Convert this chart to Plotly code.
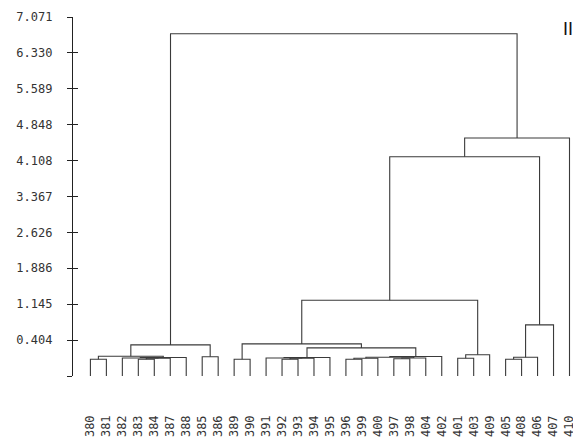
import plotly.graph_objects as go

# ===============================
# Données du dendrogramme
# ===============================
leaf_labels = ["380", "381", "382", "383", "384", "387", "388", "385", "386",
               "389", "390", "391", "392", "393", "394", "395", "396", "399",
               "400", "397", "398", "404", "402", "401", "403", "409", "405",
               "408", "406", "407", "410"]

# fusions (convention scipy : feuilles 0..30, fusion k -> id 31+k)
merge_left = [0, 3, 32, 2, 34, 31, 7, 36,
              9, 12, 40, 11, 42, 16, 44, 19, 46, 45, 48, 43, 39,
              23, 52, 26, 54, 55, 51, 57, 58, 38]
merge_right = [1, 4, 5, 33, 6, 35, 8, 37,
               10, 13, 14, 41, 15, 17, 18, 20, 21, 47, 22, 49, 50,
               24, 25, 27, 28, 29, 53, 56, 30, 59]
merge_height = [0.01, 0.01, 0.03, 0.035, 0.045, 0.07, 0.06, 0.305,
                0.01, 0.01, 0.03, 0.035, 0.045, 0.01, 0.03, 0.02, 0.035, 0.05, 0.065, 0.243, 0.325,
                0.03, 0.10, 0.01, 0.05, 0.718, 1.225, 4.186, 4.573, 6.726]

y_ticks = [7.071, 6.330, 5.589, 4.848, 4.108, 3.367, 2.626, 1.886, 1.145, 0.404, -0.337]
y_tick_text = ["7.071", "6.330", "5.589", "4.848", "4.108", "3.367", "2.626",
               "1.886", "1.145", "0.404", ""]

y_base = y_ticks[-1]
y_top = y_ticks[0]


# ===============================
# Construction des segments
# ===============================
def build_segments(n_leaves):
    pos = {i: (float(i), y_base) for i in range(n_leaves)}
    xs, ys = [], []
    for k, (a, b, h) in enumerate(zip(merge_left, merge_right, merge_height)):
        xa, ha = pos[a]
        xb, hb = pos[b]
        xs += [xa, xa, xb, xb, None]
        ys += [ha, h, h, hb, None]
        pos[n_leaves + k] = ((xa + xb) / 2, h)
    return xs, ys


xs, ys = build_segments(len(leaf_labels))

line_color = "#3a3a3a"
mono = "DejaVu Sans Mono"

fig = go.Figure()
fig.add_trace(go.Scatter(
    x=xs, y=ys, mode="lines",
    line=dict(color=line_color, width=1.1),
    hoverinfo="skip", showlegend=False
))
# axe fantôme pour les graduations qui traversent l'axe
fig.add_trace(go.Scatter(x=[None], y=[None], yaxis="y2", showlegend=False, hoverinfo="skip"))

# la page garde 8 px de marge autour du graphique
fig.update_layout(
    width=573, height=437,
    margin=dict(l=65, r=0, t=9, b=69),
    paper_bgcolor="white", plot_bgcolor="white",
    showlegend=False,
    xaxis=dict(
        range=[-1.09, 30.72], automargin=False,
        tickmode="array", tickvals=list(range(len(leaf_labels))), ticktext=leaf_labels,
        tickangle=-90, ticks="", showline=False, showgrid=False, zeroline=False,
        tickfont=dict(family=mono, size=12, color="#333"),
        ticklabelstandoff=36,
    ),
    yaxis=dict(
        range=[y_base, y_top], automargin=False,
        tickmode="array", tickvals=y_ticks, ticktext=y_tick_text,
        ticks="outside", ticklen=5, tickwidth=1, tickcolor="#222",
        showline=True, linecolor="#222", linewidth=1.3,
        showgrid=False, zeroline=False,
        tickfont=dict(family=mono, size=12, color="#333"),
        ticklabelstandoff=12,
    ),
    yaxis2=dict(
        range=[y_base, y_top], overlaying="y", side="left", automargin=False,
        tickmode="array", tickvals=y_ticks,
        ticks="inside", ticklen=5, tickwidth=1, tickcolor="#222",
        showticklabels=False, showline=False, showgrid=False, zeroline=False,
    ),
    annotations=[dict(
        text="II", xref="paper", yref="paper", x=0.974, y=0.967,
        xanchor="center", yanchor="middle", showarrow=False,
        font=dict(family="Liberation Sans", size=18, color="#111")
    )],
)

fig.write_html("out.html", config={"displayModeBar": False})
